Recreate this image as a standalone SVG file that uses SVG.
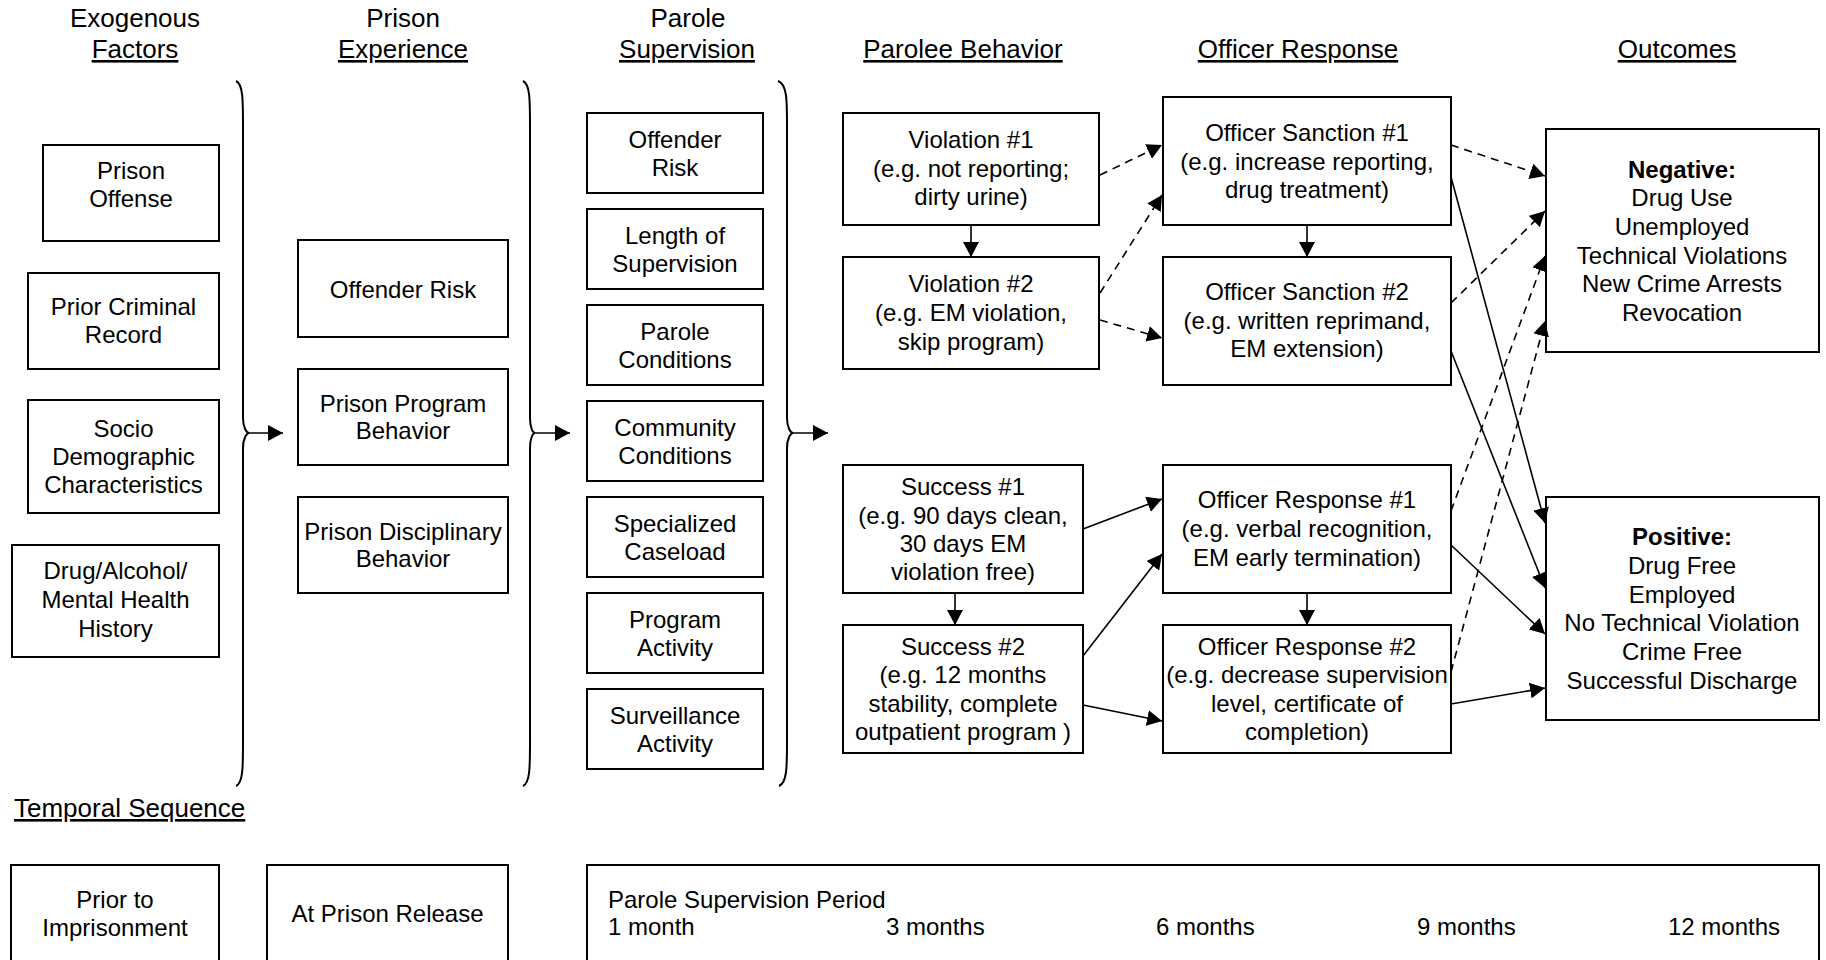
<svg xmlns="http://www.w3.org/2000/svg" width="1826" height="960" viewBox="0 0 1826 960">
<style>
text{font-family:"Liberation Sans",Arial,sans-serif;font-size:24px;fill:#000;text-anchor:middle}
.h{font-size:26px}
.u{text-decoration:underline}
.l{text-anchor:start}
.b{font-weight:bold}
rect{fill:#fff;stroke:#000;stroke-width:2}
.br{fill:none;stroke:#000;stroke-width:2}
.c line{stroke:#000;stroke-width:1.6;marker-end:url(#ah)}
.c line.d{stroke-dasharray:8 6}
</style>
<defs>
<marker id="ah" markerUnits="userSpaceOnUse" markerWidth="16" markerHeight="16" refX="15" refY="8" orient="auto" viewBox="0 0 16 16">
<path d="M0,0 L15,8 L0,16 z" fill="#000"/>
</marker>
</defs>
<rect x="0" y="0" width="1826" height="960" style="stroke:none"/>

<g id="headers">
<text class="h" x="135" y="27">Exogenous</text>
<text class="h u" x="135" y="58">Factors</text>
<text class="h" x="403" y="27">Prison</text>
<text class="h u" x="403" y="58">Experience</text>
<text class="h" x="688" y="27">Parole</text>
<text class="h u" x="687" y="58">Supervision</text>
<text class="h u" x="963" y="58">Parolee Behavior</text>
<text class="h u" x="1298" y="58">Officer Response</text>
<text class="h u" x="1677" y="58">Outcomes</text>
</g>

<g id="prison-offense"><rect x="43" y="145" width="176" height="96"/><text x="131" y="179">Prison</text><text x="131" y="207">Offense</text></g>
<g id="prior-criminal-record"><rect x="28" y="273" width="191" height="96"/><text x="123.5" y="315">Prior Criminal</text><text x="123.5" y="343">Record</text></g>
<g id="socio-demographic"><rect x="28" y="400" width="191" height="113"/><text x="123.5" y="437">Socio</text><text x="123.5" y="465">Demographic</text><text x="123.5" y="493">Characteristics</text></g>
<g id="drug-alcohol"><rect x="12" y="545" width="207" height="112"/><text x="115.5" y="579">Drug/Alcohol/</text><text x="115.5" y="608">Mental Health</text><text x="115.5" y="637">History</text></g>

<g id="prison-offender-risk"><rect x="298" y="240" width="210" height="97"/><text x="403" y="298">Offender Risk</text></g>
<g id="prison-program-behavior"><rect x="298" y="369" width="210" height="96"/><text x="403" y="412">Prison Program</text><text x="403" y="439">Behavior</text></g>
<g id="prison-disciplinary-behavior"><rect x="298" y="497" width="210" height="96"/><text x="403" y="540">Prison Disciplinary</text><text x="403" y="567">Behavior</text></g>

<g id="parole-offender-risk"><rect x="587" y="113" width="176" height="80"/><text x="675" y="148">Offender</text><text x="675" y="176">Risk</text></g>
<g id="length-of-supervision"><rect x="587" y="209" width="176" height="80"/><text x="675" y="244">Length of</text><text x="675" y="272">Supervision</text></g>
<g id="parole-conditions"><rect x="587" y="305" width="176" height="80"/><text x="675" y="340">Parole</text><text x="675" y="368">Conditions</text></g>
<g id="community-conditions"><rect x="587" y="401" width="176" height="80"/><text x="675" y="436">Community</text><text x="675" y="464">Conditions</text></g>
<g id="specialized-caseload"><rect x="587" y="497" width="176" height="80"/><text x="675" y="532">Specialized</text><text x="675" y="560">Caseload</text></g>
<g id="program-activity"><rect x="587" y="593" width="176" height="80"/><text x="675" y="628">Program</text><text x="675" y="656">Activity</text></g>
<g id="surveillance-activity"><rect x="587" y="689" width="176" height="80"/><text x="675" y="724">Surveillance</text><text x="675" y="752">Activity</text></g>

<g id="violation-1"><rect x="843" y="113" width="256" height="112"/><text x="971" y="148">Violation #1</text><text x="971" y="177">(e.g. not reporting;</text><text x="971" y="205">dirty urine)</text></g>
<g id="violation-2"><rect x="843" y="257" width="256" height="112"/><text x="971" y="292">Violation #2</text><text x="971" y="321">(e.g. EM violation,</text><text x="971" y="350">skip program)</text></g>
<g id="success-1"><rect x="843" y="465" width="240" height="128"/><text x="963" y="495">Success #1</text><text x="963" y="524">(e.g. 90 days clean,</text><text x="963" y="552">30 days EM</text><text x="963" y="580">violation free)</text></g>
<g id="success-2"><rect x="843" y="625" width="240" height="128"/><text x="963" y="655">Success #2</text><text x="963" y="683">(e.g. 12 months</text><text x="963" y="712">stability, complete</text><text x="963" y="740">outpatient program )</text></g>

<g id="officer-sanction-1"><rect x="1163" y="97" width="288" height="128"/><text x="1307" y="141">Officer Sanction #1</text><text x="1307" y="170">(e.g. increase reporting,</text><text x="1307" y="198">drug treatment)</text></g>
<g id="officer-sanction-2"><rect x="1163" y="257" width="288" height="128"/><text x="1307" y="300">Officer Sanction #2</text><text x="1307" y="329">(e.g. written reprimand,</text><text x="1307" y="357">EM extension)</text></g>
<g id="officer-response-1"><rect x="1163" y="465" width="288" height="128"/><text x="1307" y="508">Officer Response #1</text><text x="1307" y="537">(e.g. verbal recognition,</text><text x="1307" y="566">EM early termination)</text></g>
<g id="officer-response-2"><rect x="1163" y="625" width="288" height="128"/><text x="1307" y="655">Officer Response #2</text><text x="1307" y="683">(e.g. decrease supervision</text><text x="1307" y="712">level, certificate of</text><text x="1307" y="740">completion)</text></g>

<g id="negative"><rect x="1546" y="129" width="273" height="223"/><text class="b" x="1682" y="178">Negative:</text><text x="1682" y="206">Drug Use</text><text x="1682" y="235">Unemployed</text><text x="1682" y="264">Technical Violations</text><text x="1682" y="292">New Crime Arrests</text><text x="1682" y="321">Revocation</text></g>
<g id="positive"><rect x="1546" y="497" width="273" height="223"/><text class="b" x="1682" y="545">Positive:</text><text x="1682" y="574">Drug Free</text><text x="1682" y="603">Employed</text><text x="1682" y="631">No Technical Violation</text><text x="1682" y="660">Crime Free</text><text x="1682" y="689">Successful Discharge</text></g>

<g id="brackets">
<path class="br" d="M236,81 C243,84 243,100 243,125 L243,418 C243,428 247,433 249,433 C247,433 243,438 243,448 L243,742 C243,767 243,783 236,786"/>
<path class="br" d="M523,81 C530,84 530,100 530,125 L530,418 C530,428 533,433 535,433 C533,433 530,438 530,448 L530,742 C530,767 530,783 523,786"/>
<path class="br" d="M778,81 C787,84 787,100 787,125 L787,418 C787,428 791,433 793,433 C791,433 787,438 787,448 L787,742 C787,767 787,783 779,786"/>
</g>

<g id="connectors" class="c">
<line x1="249" y1="433" x2="283" y2="433"/>
<line x1="535" y1="433" x2="570" y2="433"/>
<line x1="793" y1="433" x2="828" y2="433"/>
<line x1="971" y1="225" x2="971" y2="257"/>
<line x1="1307" y1="225" x2="1307" y2="257"/>
<line x1="955" y1="593" x2="955" y2="625"/>
<line x1="1307" y1="593" x2="1307" y2="625"/>
<line class="d" x1="1100" y1="175" x2="1162" y2="145"/>
<line class="d" x1="1100" y1="293" x2="1162" y2="195"/>
<line class="d" x1="1100" y1="320" x2="1162" y2="338"/>
<line class="d" x1="1451" y1="145" x2="1545" y2="176"/>
<line class="d" x1="1451" y1="303" x2="1545" y2="211"/>
<line class="d" x1="1451" y1="511" x2="1545" y2="256"/>
<line class="d" x1="1451" y1="672" x2="1545" y2="321"/>
<line x1="1451" y1="177" x2="1545" y2="523"/>
<line x1="1451" y1="351" x2="1545" y2="588"/>
<line x1="1451" y1="545" x2="1545" y2="634"/>
<line x1="1451" y1="704" x2="1545" y2="688"/>
<line x1="1083" y1="529" x2="1162" y2="499"/>
<line x1="1083" y1="656" x2="1162" y2="554"/>
<line x1="1083" y1="705" x2="1162" y2="721"/>
</g>

<g id="temporal">
<text class="h u l" x="14" y="817">Temporal Sequence</text>
</g>
<g id="prior-to-imprisonment"><rect x="11" y="865" width="208" height="110"/><text x="115" y="908">Prior to</text><text x="115" y="936">Imprisonment</text></g>
<g id="at-prison-release"><rect x="267" y="865" width="241" height="110"/><text x="387.5" y="922">At Prison Release</text></g>
<g id="parole-supervision-period"><rect x="587" y="865" width="1232" height="110"/>
<text class="l" x="608" y="908">Parole Supervision Period</text>
<text class="l" x="608" y="935">1 month</text>
<text class="l" x="886" y="935">3 months</text>
<text class="l" x="1156" y="935">6 months</text>
<text class="l" x="1417" y="935">9 months</text>
<text class="l" x="1668" y="935">12 months</text>
</g>
</svg>
